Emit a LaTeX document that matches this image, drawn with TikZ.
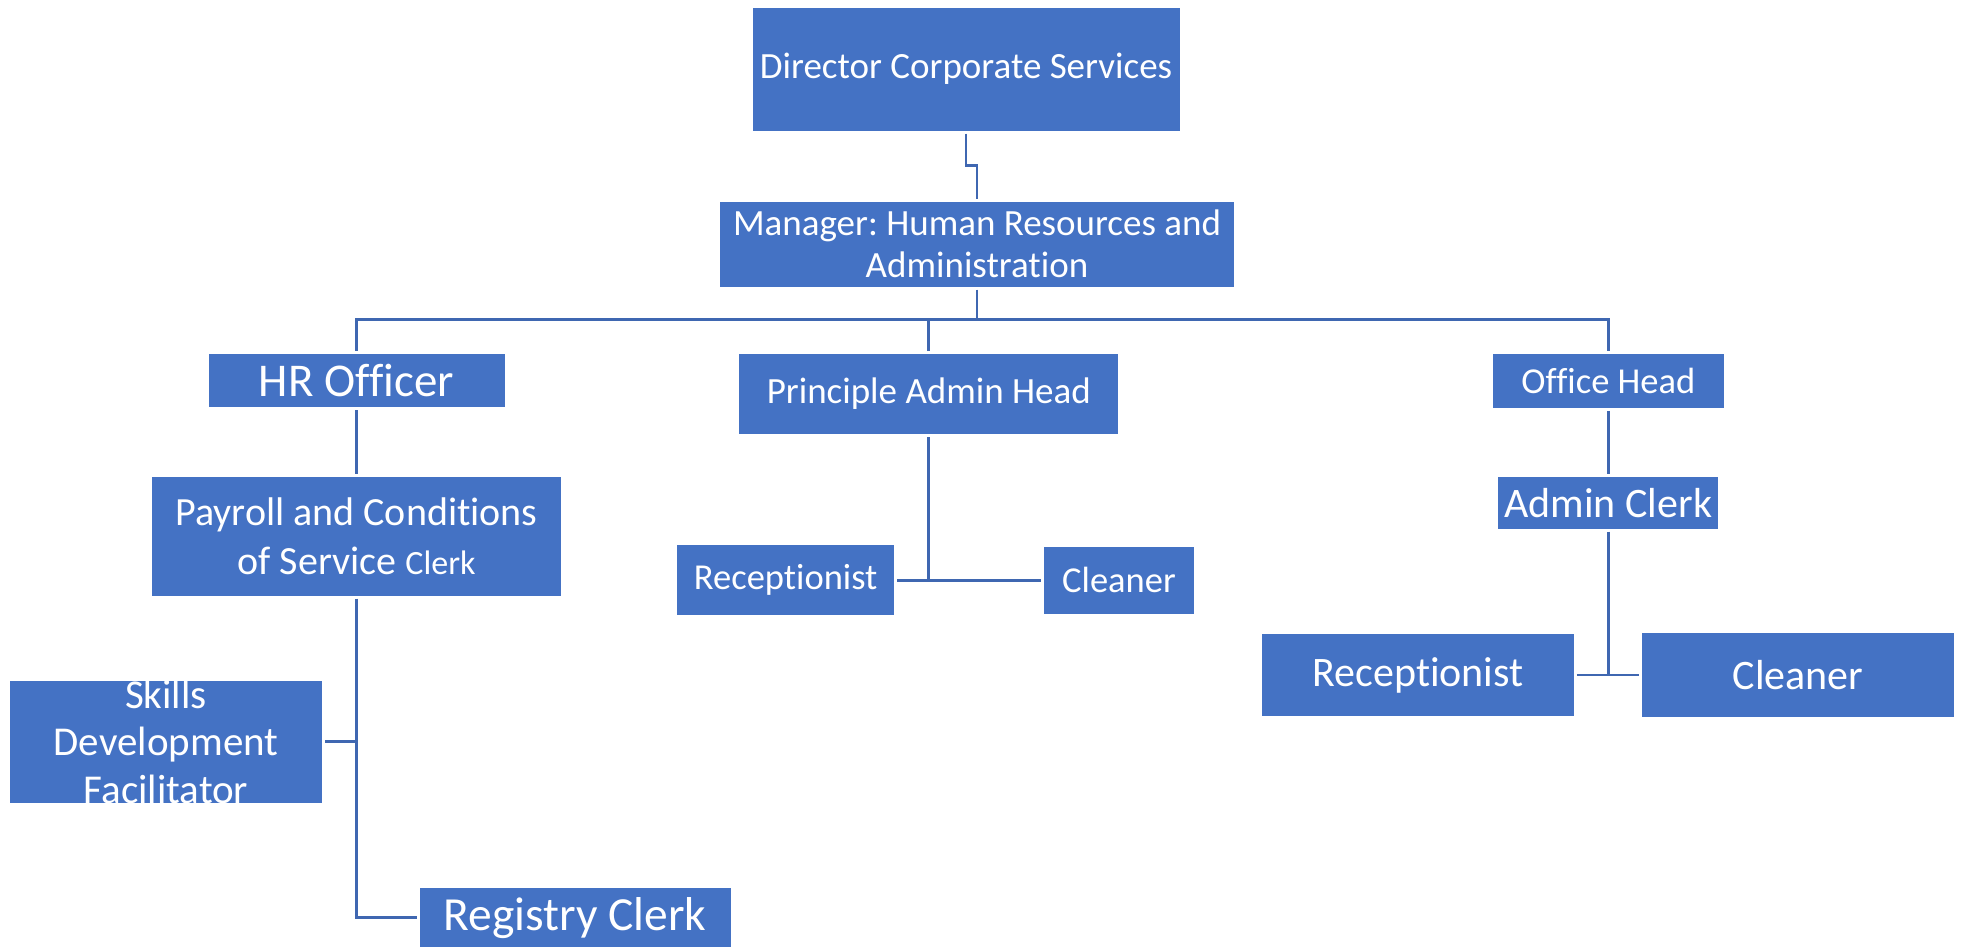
\documentclass[tikz,border=0pt]{standalone}
\usepackage{fontspec}
\setmainfont{Carlito}[Ligatures=NoCommon]
\usepackage{tikz}
\usetikzlibrary{calc}
\frenchspacing

\definecolor{boxblue}{HTML}{4472C4}
\definecolor{linkblue}{HTML}{3F67B1}
\newcommand{\orgfont}[2]{\fontsize{#1}{#2}\selectfont}

\begin{document}
\begin{tikzpicture} [
    x=1pt, y=-1pt,
    post/.style = {rectangle, fill=boxblue, text=white, align=center, inner sep=2pt, outer sep=3pt},
    posttext/.style = {text=white, align=center, inner sep=0pt},
    link/.style = {draw=linkblue, line width=2.7pt}
]
    \useasboundingbox (0,0) rectangle (1962,948);

    \node[post, minimum width=427pt, minimum height=123pt, font=\orgfont{37}{45}] (dcs) at (966,69) {Director Corporate Services};
    \node[post, minimum width=514pt, minimum height=85pt, font=\orgfont{37}{41.5}] (mhra) at (977,244) {Manager: Human Resources and\\Administration};

    \node[post, minimum width=296pt, minimum height=53.5pt, font=\orgfont{47}{56}] (hro) at (356.5,380.3) {HR Officer};
    \node[post, minimum width=379pt, minimum height=80pt, font=\orgfont{37}{45}] (pah) at (928.8,394) {Principle Admin Head};
    \node[post, minimum width=231pt, minimum height=53.7pt, font=\orgfont{36.5}{44}] (oh) at (1608.3,381) {Office Head};

    \node[post, minimum width=409pt, minimum height=119pt, font=\orgfont{40}{48.5}] (pcs) at (356.5,536) {Payroll and Conditions\\of Service {\orgfont{34}{41}Clerk}};
    \node[post, minimum width=312pt, minimum height=122pt,
        label={[posttext, font=\orgfont{41}{47.5}]center:Skills\\Development\\Facilitator}] (sdf) at (166,741.5) {};
    \node[post, minimum width=311pt, minimum height=59pt, font=\orgfont{47.5}{57}] (rc) at (575,917.8) {Registry Clerk};

    \node[post, minimum width=217.4pt, minimum height=70pt, font=\orgfont{36.5}{44}] (recA) at (785.7,580.3) {Receptionist};
    \node[post, minimum width=149.3pt, minimum height=66.7pt, font=\orgfont{36.5}{44}] (clA) at (1119,580.3) {Cleaner};

    \node[post, minimum width=220pt, minimum height=52pt, font=\orgfont{42}{50}] (ac) at (1608.3,502.7) {Admin Clerk};
    \node[post, minimum width=311.5pt, minimum height=82pt, font=\orgfont{42}{50}] (recB) at (1418,675) {Receptionist};
    \node[post, minimum width=311.5pt, minimum height=83.4pt, font=\orgfont{42}{50}] (clB) at (1798,675) {Cleaner};

    \coordinate (bus) at ($(mhra.south)+(0,30)$);

    \draw[link] (dcs.south) -- ++(0,32) -| (mhra.north);
    \draw[link] (mhra.south) -- (bus);
    \draw[link] (hro.north) |- (bus) -| (oh.north);
    \draw[link] (pah.north) -- (pah.north |- bus);

    \draw[link] (hro.south) -- (pcs.north);
    \draw[link] (pcs.south) |- (rc.west);
    \draw[link] (sdf.east) -- (sdf.east -| pcs.south);

    \draw[link] (pah.south) -- (pah.south |- recA.east);
    \draw[link] (recA.east) -- (clA.west);

    \draw[link] (oh.south) -- (ac.north);
    \draw[link] (ac.south) -- (ac.south |- recB.east);
    \draw[link] (recB.east) -- (clB.west);
\end{tikzpicture}
\end{document}
